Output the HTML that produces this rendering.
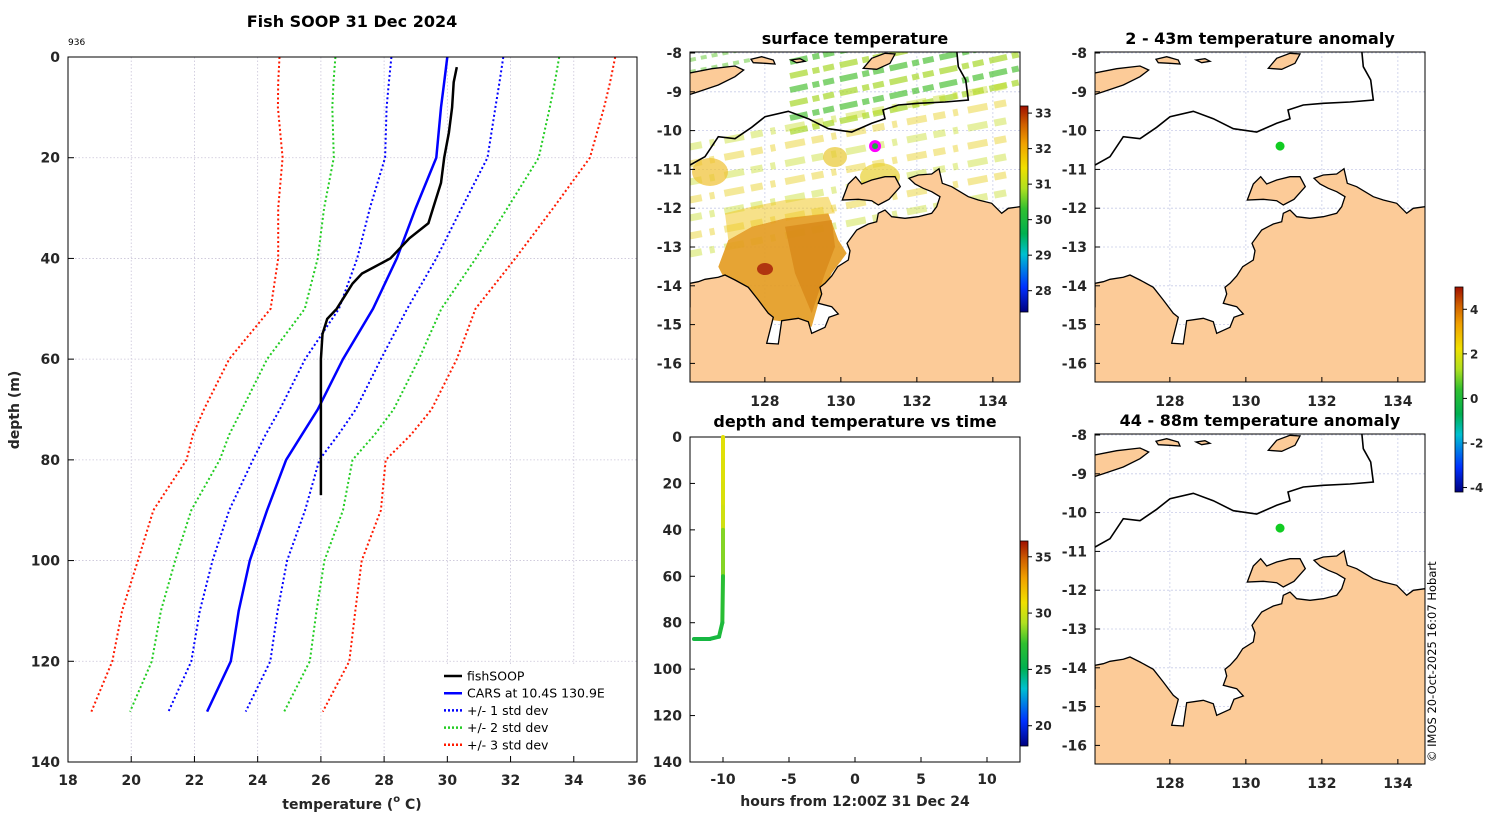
<!DOCTYPE html>
<html><head><meta charset="utf-8">
<style>
body{margin:0;background:#fff;}
svg text{font-family:"DejaVu Sans","Liberation Sans",sans-serif;}
.tk{font-size:14px;font-weight:bold;fill:#262626;}
.tt{font-size:16px;font-weight:bold;fill:#000;}
</style></head>
<body>
<svg id="fig" width="1500" height="820" viewBox="0 0 1500 820" xmlns="http://www.w3.org/2000/svg">
<defs>
<linearGradient id="cmap" x1="0" y1="1" x2="0" y2="0">
<stop offset="0" stop-color="#00007f"/><stop offset="0.12" stop-color="#0030ff"/><stop offset="0.28" stop-color="#00c0d0"/><stop offset="0.38" stop-color="#00b050"/><stop offset="0.5" stop-color="#30c030"/><stop offset="0.6" stop-color="#b0e020"/><stop offset="0.7" stop-color="#f0e000"/><stop offset="0.82" stop-color="#f0a000"/><stop offset="0.91" stop-color="#d06000"/><stop offset="1" stop-color="#a01000"/>
</linearGradient>
<clipPath id="clipM1"><rect x="0" y="0" width="330" height="330"/></clipPath>
</defs>
<g id="root"></g>
</svg>
<script>
// ---------- profile data ----------
const cars_depth = [0,5,10,20,30,40,50,60,70,75,80,90,100,110,120,130];
const cars_temp  = [30.0,29.9,29.8,29.65,29.0,28.4,27.65,26.7,25.9,25.4,24.9,24.3,23.75,23.4,23.15,22.4];
const cars_std   = [1.77,1.75,1.72,1.62,1.45,1.25,1.08,1.2,1.2,1.15,1.05,1.2,1.18,1.23,1.25,1.22];
const fish_depth = [2,5,10,15,20,25,30,33,36,40,42,43,45,47,50,52,55,60,70,80,87];
const fish_temp  = [30.3,30.2,30.15,30.05,29.9,29.8,29.55,29.4,28.8,28.2,27.6,27.3,27.0,26.8,26.5,26.2,26.05,26.0,26.0,26.0,26.0];
const temp_ticks = [18,20,22,24,26,28,30,32,34,36];
const depth_ticks = [0,20,40,60,80,100,120,140];
// time plot data
const tp_hours = [-10,-10,-10,-10,-10,-10,-10.05,-10.3,-11,-12.2];
const tp_depth = [0,10,20,30,40,60,80,86,87,87];
const tp_temp  = [30.5,30.4,30.3,30.0,28.5,27,26.5,26.2,26.1,26.1];
const hour_ticks = [-10,-5,0,5,10];
const lon_ticks = [128,130,132,134];
const lat_ticks = [-8,-9,-10,-11,-12,-13,-14,-15,-16];
const ship_lon = 130.9, ship_lat = -10.4;

const NS="http://www.w3.org/2000/svg";
const root=document.getElementById('root');
function el(tag,attrs,parent,txt){const e=document.createElementNS(NS,tag);for(const k in attrs)e.setAttribute(k,attrs[k]);if(txt!==undefined)e.textContent=txt;(parent||root).appendChild(e);return e;}

// ---------- profile axes ----------
const PX0=68,PX1=637,PY0=57,PY1=762;
const xT=t=>PX0+(t-18)/(36-18)*(PX1-PX0);
const yD=d=>PY0+d/140*(PY1-PY0);
const gP=el('g',{});


el('rect',{x:PX0,y:PY0,width:PX1-PX0,height:PY1-PY0,fill:'#fff'},gP);
temp_ticks.forEach(t=>{
  const l=el('line',{x1:xT(t),x2:xT(t),y1:PY0,y2:PY1,stroke:'#c9c4d8','stroke-width':0.8,'stroke-dasharray':'1.5,2'},gP);
  
  const tx=el('text',{x:xT(t),y:PY1+23,'text-anchor':'middle',class:'tk'},gP,String(t));
  
  el('line',{x1:xT(t),x2:xT(t),y1:PY1,y2:PY1-6,stroke:'#000'},gP);
});
depth_ticks.forEach(d=>{
  const l=el('line',{x1:PX0,x2:PX1,y1:yD(d),y2:yD(d),stroke:'#c9c4d8','stroke-width':0.8,'stroke-dasharray':'1.5,2'},gP);
  
  const tx=el('text',{x:PX0-8,y:yD(d)+5,'text-anchor':'end',class:'tk'},gP,String(d));
  
  el('line',{x1:PX0,x2:PX0+6,y1:yD(d),y2:yD(d),stroke:'#000'},gP);
});
function poly(xs,ys,fx,fy){return xs.map((v,i)=>fx(v).toFixed(1)+','+fy(ys[i]).toFixed(1)).join(' ');}
const sdColors={1:'#0000ff',2:'#22cc22',3:'#ff1a00'};
[3,2,1].forEach(k=>{
  [-1,1].forEach(s=>{
    const tt=cars_temp.map((t,i)=>t+s*k*cars_std[i]);
    const p=el('polyline',{points:poly(tt,cars_depth,xT,yD),fill:'none',stroke:sdColors[k],'stroke-width':2,'stroke-dasharray':'2,2.5'},gP);
    
  });
});
const cl=el('polyline',{points:poly(cars_temp,cars_depth,xT,yD),fill:'none',stroke:'#0000ff','stroke-width':2.5},gP);

const fl=el('polyline',{points:poly(fish_temp,fish_depth,xT,yD),fill:'none',stroke:'#000','stroke-width':2.5},gP);

el('rect',{x:PX0,y:PY0,width:PX1-PX0,height:PY1-PY0,fill:'none',stroke:'#000','stroke-width':1},gP);
// legend
const lg=el('g',{},gP);


el('rect',{x:437,y:665,width:193,height:91,fill:'#fff'},lg);
const legItems=[['fishSOOP','#000',''],['CARS at 10.4S 130.9E','#0000ff',''],['+/- 1 std dev','#0000ff','2,2'],['+/- 2 std dev','#22cc22','2,2'],['+/- 3 std dev','#ff1a00','2,2']];
legItems.forEach((it,i)=>{
  const y=676+i*17.2;
  const g=el('g',{},lg);
  
  
  el('line',{x1:444,x2:462,y1:y,y2:y,stroke:it[1],'stroke-width':2.5,'stroke-dasharray':it[2]||'none'},g);
  el('text',{x:467,y:y+4.5,'font-size':12.5,fill:'#000'},g,it[0]);
});
const t1=el('text',{x:352,y:27,'text-anchor':'middle',class:'tt'},root,'Fish SOOP 31 Dec 2024');

el('text',{x:68,y:45,'font-size':9,fill:'#000'},root,'936');
const yl=el('text',{x:0,y:0,'text-anchor':'middle',class:'tk','font-size':16,transform:'translate(19,410) rotate(-90)'},root,'depth (m)');

const xl=el('text',{x:352,y:809,'text-anchor':'middle',class:'tk','font-size':16},root);

xl.innerHTML='temperature (<tspan font-size="10" dy="-7">o</tspan><tspan dy="7"> C)</tspan>';

// ---------- maps ----------
const LON0=126.03,PPLON=38,PPLAT=38.8;
const mx=lon=>(lon-LON0)*PPLON;
const my=lat=>1+(-8-lat)*PPLAT;
function Z(arr){let s='';for(let i=0;i<arr.length;i+=2){s+=(i?'L':'M')+(arr[i]/3-5).toFixed(1)+','+(arr[i+1]/3-12).toFixed(1);}return s;}
const mainland=[15,800,15,730,40,725,60,718,100,712,120,705,150,720,190,742,220,780,250,820,265,832,245,910,280,912,290,842,340,835,370,845,380,880,420,862,432,832,460,822,440,800,400,790,410,762,405,742,420,730,440,708,458,680,490,660,495,632,486,610,515,570,550,552,575,545,580,520,600,510,620,530,660,535,700,530,740,520,755,500,765,470,740,455,715,445,690,432,672,415,700,405,740,402,762,386,772,430,800,440,850,470,880,480,920,490,950,520,970,505,1005,500,1010,500,1010,1040,10,1040,10,800];
const melville=[472,480,490,432,512,410,530,432,560,420,600,410,630,410,646,440,612,478,580,495,560,482,520,478];
const timor=[10,100,80,86,150,78,176,90,150,110,100,135,40,155,10,165];
const isl1=[198,58,230,50,265,60,270,72,240,70,205,68];
const isl2=[318,60,345,56,360,64,335,68];
const isl3=[535,85,560,55,600,40,630,42,615,70,575,88];
const eez=[10,378,60,350,100,290,150,296,200,262,240,230,310,214,370,236,430,266,500,276,560,250,600,236,594,210,640,195,700,190,780,186,850,180,842,120,820,80,815,30];

function drawMap(gx,gy,name,title,withSST,marker){
  const g=el('g',{transform:`translate(${gx},${gy})`});
  
  
  el('rect',{x:0,y:0,width:330,height:330,fill:'#fff'},g);
  const inner=el('g',{'clip-path':'url(#clipM1)'},g);
  lon_ticks.forEach(l=>el('line',{x1:mx(l),x2:mx(l),y1:0,y2:330,stroke:'#c8cce8','stroke-width':0.8,'stroke-dasharray':'2,2'},inner));
  lat_ticks.forEach(l=>el('line',{x1:0,x2:330,y1:my(l),y2:my(l),stroke:'#c8cce8','stroke-width':0.8,'stroke-dasharray':'2,2'},inner));
  if(withSST){
    const sst=el('g',{},inner);
    
    
    const stripeY=[80,66,52,38,24,10,-4];
    stripeY.forEach((y,i)=>{
      el('line',{x1:100,y1:y,x2:340,y2:y-52,stroke:i%2?'#50c23a':'#a8d82a','stroke-width':6,opacity:0.7,'stroke-dasharray':'18,5,7,4,11,6'},sst);
    });
    [0,-12].forEach(y=>el('line',{x1:0,y1:20+y,x2:60,y2:8+y,stroke:'#60c830','stroke-width':4,opacity:0.5,'stroke-dasharray':'6,5'},sst));
    const ys=[95,112,130,148,166,184,202];
    ys.forEach((y,i)=>{
      el('line',{x1:0,y1:y,x2:320,y2:y-62,stroke:i%2?'#e8d020':'#c8e030','stroke-width':7,opacity:0.45,'stroke-dasharray':'12,8,5,10,20,7'},sst);
    });
    el('ellipse',{cx:190,cy:125,rx:20,ry:14,fill:'#e8d030',opacity:0.7},sst);
    el('ellipse',{cx:145,cy:105,rx:12,ry:10,fill:'#e8c830',opacity:0.7},sst);
    el('ellipse',{cx:20,cy:120,rx:18,ry:14,fill:'#f0c030',opacity:0.7},sst);
    const orange=[130,600,200,560,300,535,430,520,460,600,485,640,440,700,400,790,380,860,330,850,260,840,220,790,180,740,120,720,100,680];
    el('path',{d:Z(orange)+'Z',fill:'#e39a1e',opacity:0.9},sst);
    el('path',{d:Z([300,560,440,540,450,620,420,700,380,820,330,700])+'Z',fill:'#d68415',opacity:0.7},sst);
    el('ellipse',{cx:75,cy:217,rx:8,ry:6,fill:'#b03510'},sst);
    el('path',{d:Z([120,520,200,500,300,480,430,470,450,520,300,535,200,560,130,600])+'Z',fill:'#f0c828',opacity:0.55},sst);
  }
  [mainland,melville,timor,isl1,isl2,isl3].forEach((pts,i)=>{
    const p=el('path',{d:Z(pts)+'Z',fill:'#fccb98',stroke:'#000','stroke-width':1.3},inner);
    
  });
  const e=el('path',{d:Z(eez),fill:'none',stroke:'#000','stroke-width':1.6},inner);
  
  if(marker==='ring'){
    el('circle',{cx:mx(ship_lon),cy:my(ship_lat),r:4.5,fill:'#22aa44',stroke:'#ff00ff','stroke-width':3},g);
  } else {
    el('circle',{cx:mx(ship_lon),cy:my(ship_lat),r:4.5,fill:'#11cc22'},g);
  }
  el('rect',{x:0,y:0,width:330,height:330,fill:'none',stroke:'#000','stroke-width':1},g);
  lat_ticks.forEach(l=>{
    const t=el('text',{x:-8,y:my(l)+5,'text-anchor':'end',class:'tk'},g,String(l));
    
    el('line',{x1:0,x2:5,y1:my(l),y2:my(l),stroke:'#000'},g);
  });
  lon_ticks.forEach(l=>{
    const t=el('text',{x:mx(l),y:354,'text-anchor':'middle',class:'tk'},g,String(l));
    
    el('line',{x1:mx(l),x2:mx(l),y1:330,y2:325,stroke:'#000'},g);
  });
  const tt=el('text',{x:165,y:-8,'text-anchor':'middle',class:'tt'},g,title);
  
}
drawMap(690,52,'sst-map','surface temperature',true,'ring');
drawMap(1095,52,'anomaly-map-2-43m','2 - 43m temperature anomaly',false,'dot');
drawMap(1095,434,'anomaly-map-44-88m','44 - 88m temperature anomaly',false,'dot');

// ---------- colorbars ----------
function colorbar(x,y0,y1,vmin,vmax,ticks,name){
  const g=el('g',{});
  
  
  el('rect',{x:x,y:y0,width:8,height:y1-y0,fill:'url(#cmap)',stroke:'#000','stroke-width':0.8},g);
  ticks.forEach(v=>{
    const y=y1-(v-vmin)/(vmax-vmin)*(y1-y0);
    el('line',{x1:x+8,x2:x+12,y1:y,y2:y,stroke:'#000'},g);
    el('text',{x:x+15,y:y+4.5,'font-size':12,'font-weight':'bold',fill:'#262626'},g,String(v));
  });
}
colorbar(1020,106,312,27.4,33.2,[28,29,30,31,32,33],'sst-colorbar');
colorbar(1455,287,492,-4.2,5.0,[-4,-2,0,2,4],'anomaly-colorbar');
colorbar(1020,541,746,18.2,36.4,[20,25,30,35],'time-colorbar');

// ---------- time plot ----------
const TX0=690,TX1=1020,TY0=437,TY1=762;
const xH=h=>TX0+(h+12.5)/25*(TX1-TX0);
const yT=d=>TY0+d/140*(TY1-TY0);
const gT=el('g',{});


el('rect',{x:TX0,y:TY0,width:TX1-TX0,height:TY1-TY0,fill:'#fff',stroke:'#000','stroke-width':1},gT);
function tcol(t){const f=Math.max(0,Math.min(1,(t-18.2)/18.2));
  const stops=[[0,[0,0,127]],[0.12,[0,48,255]],[0.28,[0,192,208]],[0.38,[0,176,80]],[0.5,[48,192,48]],[0.6,[176,224,32]],[0.7,[240,224,0]],[0.82,[240,160,0]],[0.91,[208,96,0]],[1,[160,16,0]]];
  for(let i=1;i<stops.length;i++){if(f<=stops[i][0]){const a=stops[i-1],b=stops[i],u=(f-a[0])/(b[0]-a[0]);return 'rgb('+a[1].map((c,j)=>Math.round(c+u*(b[1][j]-c))).join(',')+')';}}
  return 'rgb(160,16,0)';}
for(let i=0;i<tp_hours.length-1;i++){
  const s=el('line',{x1:xH(tp_hours[i]),y1:yT(tp_depth[i]),x2:xH(tp_hours[i+1]),y2:yT(tp_depth[i+1]),stroke:tcol(tp_temp[i]),'stroke-width':4,'stroke-linecap':'round'},gT);
  
}
hour_ticks.forEach(h=>{
  el('text',{x:xH(h),y:TY1+22,'text-anchor':'middle',class:'tk'},gT,String(h));
  el('line',{x1:xH(h),x2:xH(h),y1:TY1,y2:TY1-5,stroke:'#000'},gT);
});
depth_ticks.forEach(d=>{
  el('text',{x:TX0-8,y:yT(d)+5,'text-anchor':'end',class:'tk'},gT,String(d));
  el('line',{x1:TX0,x2:TX0+5,y1:yT(d),y2:yT(d),stroke:'#000'},gT);
});
el('text',{x:855,y:427,'text-anchor':'middle',class:'tt'},gT,'depth and temperature vs time');
el('text',{x:855,y:806,'text-anchor':'middle',class:'tk','font-size':16},gT,'hours from 12:00Z 31 Dec 24');

const cp=el('text',{x:0,y:0,'font-size':11.5,fill:'#000',transform:'translate(1436,762) rotate(-90)'},root,'© IMOS 20-Oct-2025 16:07 Hobart');


</script>
</body></html>
